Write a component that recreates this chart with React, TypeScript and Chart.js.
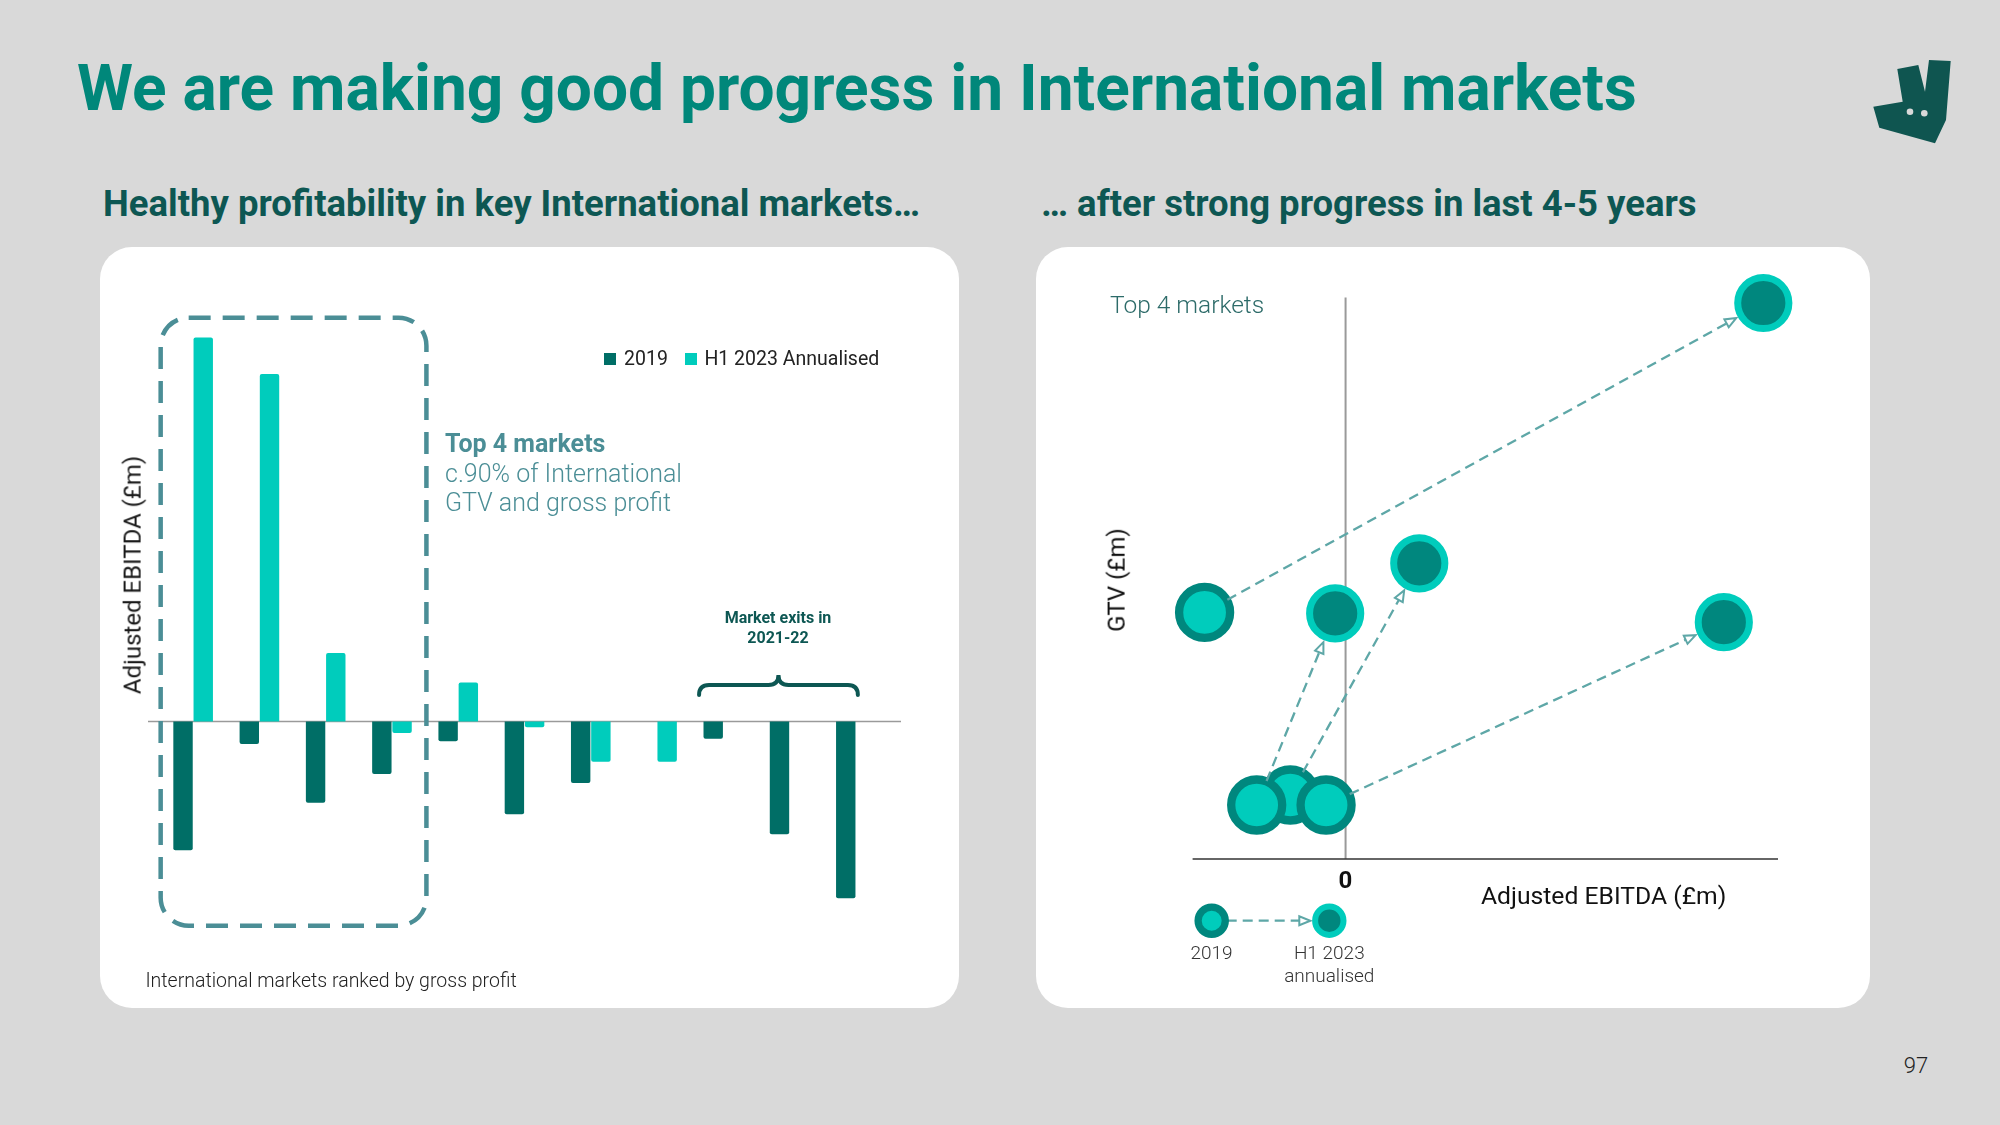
import React, { useEffect, useRef } from "react";
import { Chart, registerables } from "chart.js";

Chart.register(...registerables);

// ---------- Left chart data (Adjusted EBITDA, £m, read approximately) ----------
const markets = [
  "Market 1", "Market 2", "Market 3", "Market 4", "Market 5", "Market 6",
  "Market 7", "Market 8", "Market 9", "Market 10", "Market 11",
];
const ebitda2019 = [-20.1, -3.5, -12.7, -8.2, -3.1, -14.5, -9.6, null, -2.7, -17.6, -27.6];
const ebitdaH1 = [60.0, 54.3, 10.7, -1.8, 6.1, -0.9, -6.3, -6.3, null, null, null];
const seriesLabels = ["2019", "H1 2023 Annualised"];

// ---------- Right chart data (top 4 markets: EBITDA vs GTV) ----------
const topMarkets = ["Market A", "Market C", "Market B", "Market D"];
const ebitdaTop2019 = [-14.1, -5.53, -8.89, -1.95];
const gtvTop2019 = [24.66, 6.4, 5.4, 5.4];
const ebitdaTopH1 = [41.78, 7.37, -1.04, 37.83];
const gtvTopH1 = [55.6, 29.57, 24.56, 23.68];

const FONT = "Roboto, 'Noto Sans', sans-serif";
const DARK = "#006e66";
const LIGHT = "#00ccbc";
const DARK_PT = "#00877e";
const BOX = "#4b8e96";
const DEEP = "#0d5753";
const ARROW = "#5ea7a7";

type TxtProps = {
  x: number; y: number; size: number; weight?: number; color?: string;
  align?: "left" | "center" | "right"; rotate?: boolean; children: React.ReactNode;
};
const Txt = ({ x, y, size, weight = 400, color = "#222", align = "left", rotate = false, children }: TxtProps) => {
  const tx = rotate ? "-50%" : align === "center" ? "-50%" : align === "right" ? "-100%" : "0";
  const style: React.CSSProperties = {
    position: "absolute", left: x, top: y, fontSize: size, fontWeight: weight, color,
    fontFamily: FONT, lineHeight: 1.2, whiteSpace: "nowrap",
    transform: `translate(${tx}, -50%)` + (rotate ? " rotate(-90deg)" : ""),
    transformOrigin: "center",
  };
  return <div style={style}>{children}</div>;
};

function drawArrow(ctx: CanvasRenderingContext2D, x1: number, y1: number, x2: number, y2: number,
  startOff: number, endOff: number) {
  const dx = x2 - x1, dy = y2 - y1;
  const L = Math.hypot(dx, dy);
  const ux = dx / L, uy = dy / L;
  const nx = -uy, ny = ux;
  const sx = x1 + ux * startOff, sy = y1 + uy * startOff;
  const ex = x2 - ux * endOff, ey = y2 - uy * endOff;
  const head = 11, hw = 4.5;
  const bx = ex - ux * head, by = ey - uy * head;
  ctx.save();
  ctx.strokeStyle = ARROW;
  ctx.lineWidth = 2.3;
  ctx.setLineDash([10, 6]);
  ctx.beginPath();
  ctx.moveTo(sx, sy);
  ctx.lineTo(bx, by);
  ctx.stroke();
  ctx.setLineDash([]);
  ctx.beginPath();
  ctx.moveTo(ex, ey);
  ctx.lineTo(bx + nx * hw, by + ny * hw);
  ctx.lineTo(bx - nx * hw, by - ny * hw);
  ctx.closePath();
  ctx.fillStyle = "#ffffff";
  ctx.fill();
  ctx.lineWidth = 2;
  ctx.stroke();
  ctx.restore();
}

const LeftChart = () => {
  const ref = useRef<HTMLCanvasElement>(null);
  useEffect(() => {
    if (!ref.current) return;
    const boxTop = 63.1, boxBottom = -31.9, braceLevel = 5.7;
    const annot = {
      id: "leftAnnot",
      beforeDatasetsDraw(chart: any) {
        const { ctx, chartArea, scales } = chart;
        const y0 = scales.y.getPixelForValue(0);
        ctx.save();
        ctx.strokeStyle = "#9a9a9a";
        ctx.lineWidth = 1.6;
        ctx.beginPath();
        ctx.moveTo(chartArea.left - 12, y0);
        ctx.lineTo(chartArea.right + 12, y0);
        ctx.stroke();
        ctx.restore();
      },
      afterDatasetsDraw(chart: any) {
        const { ctx, scales } = chart;
        const x = scales.x, y = scales.y;
        const w = x.getPixelForValue(1) - x.getPixelForValue(0);
        // dashed box around top 4 markets
        const l = x.getPixelForValue(0) - 0.49 * w;
        const r = x.getPixelForValue(3) + 0.52 * w;
        const t = y.getPixelForValue(boxTop);
        const b = y.getPixelForValue(boxBottom);
        ctx.save();
        ctx.strokeStyle = BOX;
        ctx.lineWidth = 4.5;
        ctx.setLineDash([22, 12]);
        ctx.beginPath();
        (ctx as any).roundRect(l, t, r - l, b - t, 28);
        ctx.stroke();
        ctx.restore();
        // brace over market exits
        const bl = x.getPixelForValue(8) - 0.366 * w;
        const br = x.getPixelForValue(10) + 0.03 * w;
        const bm = (bl + br) / 2;
        const yh = y.getPixelForValue(braceLevel);
        ctx.save();
        ctx.strokeStyle = DEEP;
        ctx.lineWidth = 4;
        ctx.lineCap = "round";
        ctx.beginPath();
        ctx.moveTo(bl, yh + 10);
        ctx.quadraticCurveTo(bl, yh, bl + 10, yh);
        ctx.lineTo(bm - 10, yh);
        ctx.quadraticCurveTo(bm, yh, bm, yh - 10);
        ctx.quadraticCurveTo(bm, yh, bm + 10, yh);
        ctx.lineTo(br - 10, yh);
        ctx.quadraticCurveTo(br, yh, br, yh + 10);
        ctx.stroke();
        ctx.restore();
      },
    };
    const chart = new Chart(ref.current, {
      type: "bar",
      data: {
        labels: markets,
        datasets: [
          {
            label: seriesLabels[0], data: ebitda2019 as any, backgroundColor: DARK,
            borderRadius: 2, categoryPercentage: 0.61, barPercentage: 0.96,
          },
          {
            label: seriesLabels[1], data: ebitdaH1 as any, backgroundColor: LIGHT,
            borderRadius: 2, categoryPercentage: 0.61, barPercentage: 0.96,
          },
        ],
      },
      options: {
        animation: false, responsive: false, devicePixelRatio: 1,
        layout: { padding: { left: 60, right: 70, top: 30, bottom: 30 } },
        scales: {
          x: { display: false },
          y: { display: false, min: -40.08, max: 69.45 },
        },
        plugins: { legend: { display: false }, tooltip: { enabled: false } },
      },
      plugins: [annot],
    });
    return () => chart.destroy();
  }, []);
  return <canvas ref={ref} width={859} height={761} style={{ position: "absolute", left: 0, top: 0, width: 859, height: 761 }} />;
};

const RightChart = () => {
  const ref = useRef<HTMLCanvasElement>(null);
  useEffect(() => {
    if (!ref.current) return;
    const pt = (cx: number, cy: number, r: number, lw: number, fill: string, stroke: string, ctx: CanvasRenderingContext2D) => {
      ctx.beginPath();
      ctx.arc(cx, cy, r, 0, Math.PI * 2);
      ctx.fillStyle = fill;
      ctx.fill();
      ctx.lineWidth = lw;
      ctx.strokeStyle = stroke;
      ctx.stroke();
    };
    const annot = {
      id: "rightAnnot",
      beforeDatasetsDraw(chart: any) {
        const { ctx, chartArea, scales } = chart;
        const x0 = scales.x.getPixelForValue(0);
        const y0 = scales.y.getPixelForValue(0);
        ctx.save();
        ctx.strokeStyle = "#9a9a9a";
        ctx.lineWidth = 2;
        ctx.beginPath();
        ctx.moveTo(x0, chartArea.top);
        ctx.lineTo(x0, y0);
        ctx.stroke();
        ctx.strokeStyle = "#333333";
        ctx.lineWidth = 1.6;
        ctx.beginPath();
        ctx.moveTo(chartArea.left, y0);
        ctx.lineTo(chartArea.right, y0);
        ctx.stroke();
        ctx.restore();
      },
      afterDatasetsDraw(chart: any) {
        const { ctx, scales } = chart;
        for (let i = 0; i < topMarkets.length; i++) {
          const x1 = scales.x.getPixelForValue(ebitdaTop2019[i]);
          const y1 = scales.y.getPixelForValue(gtvTop2019[i]);
          const x2 = scales.x.getPixelForValue(ebitdaTopH1[i]);
          const y2 = scales.y.getPixelForValue(gtvTopH1[i]);
          drawArrow(ctx, x1, y1, x2, y2, 26, 31);
        }
      },
      afterDraw(chart: any) {
        const { ctx } = chart;
        ctx.save();
        // legend symbols
        drawArrow(ctx, 175.7, 673.7, 293.3, 673.7, 15, 19);
        pt(175.7, 673.7, 13.6, 7.3, LIGHT, DARK_PT, ctx);
        pt(293.3, 673.7, 14.2, 6, DARK_PT, LIGHT, ctx);
        ctx.restore();
      },
    };
    const chart = new Chart(ref.current, {
      type: "scatter",
      data: {
        datasets: [
          {
            label: "2019",
            data: ebitdaTop2019.map((v, i) => ({ x: v, y: gtvTop2019[i] })),
            pointRadius: 25.5, pointBorderWidth: 8.3,
            pointBackgroundColor: LIGHT, pointBorderColor: DARK_PT, clip: false as any,
          },
          {
            label: "H1 2023 annualised",
            data: ebitdaTopH1.map((v, i) => ({ x: v, y: gtvTopH1[i] })),
            pointRadius: 25.6, pointBorderWidth: 7,
            pointBackgroundColor: DARK_PT, pointBorderColor: LIGHT, clip: false as any,
          },
        ],
      },
      options: {
        animation: false, responsive: false, devicePixelRatio: 1,
        layout: { padding: { left: 156.6, right: 92, top: 50.6, bottom: 149 } },
        scales: {
          x: { type: "linear", display: false, min: -15.3, max: 43.25 },
          y: { type: "linear", display: false, min: 0, max: 56.14 },
        },
        plugins: { legend: { display: false }, tooltip: { enabled: false } },
      },
      plugins: [annot],
    });
    return () => chart.destroy();
  }, []);
  return <canvas ref={ref} width={834} height={761} style={{ position: "absolute", left: 0, top: 0, width: 834, height: 761 }} />;
};

const card = (left: number, width: number): React.CSSProperties => ({
  position: "absolute", left, top: 247, width, height: 761, background: "#ffffff", borderRadius: 32, overflow: "hidden",
});

export default function App() {
  return (
    <div style={{ position: "fixed", left: 0, top: 0, width: 2000, height: 1125, background: "#d9d9d9", overflow: "hidden", fontFamily: FONT }}>
      <Txt x={77} y={88.5} size={64} weight={700} color="#00877a">We are making good progress in International markets</Txt>
      <svg style={{ position: "absolute", left: 1860, top: 45 }} width={110} height={110} viewBox="0 0 110 110">
        <polygon points="37.3,24 58.3,20 65,46.7 69,15 90.7,16 86,75 75,98.3 19.3,82.7 13.3,61.7 42.7,56.7" fill="#0f5550" />
        <circle cx={50} cy={66.7} r={3.3} fill="#d9d9d9" />
        <circle cx={64.3} cy={68.3} r={3.3} fill="#d9d9d9" />
      </svg>
      <Txt x={103} y={204} size={36.5} weight={700} color={DEEP}>Healthy profitability in key International markets…</Txt>
      <Txt x={1041} y={204} size={36.5} weight={700} color={DEEP}>… after strong progress in last 4-5 years</Txt>

      <div style={card(100, 859)}>
        <LeftChart />
      </div>
      {/* left chart texts */}
      <Txt x={132.8} y={575} size={24} rotate color="#1a1a1a">Adjusted EBITDA (£m)</Txt>
      <div style={{ position: "absolute", left: 604.4, top: 352.8, width: 12, height: 12, background: DARK }} />
      <Txt x={624} y={358.5} size={19.5} color="#222">{seriesLabels[0]}</Txt>
      <div style={{ position: "absolute", left: 685, top: 352.8, width: 12, height: 12, background: LIGHT }} />
      <Txt x={704.4} y={358.5} size={19.5} color="#222">{seriesLabels[1]}</Txt>
      <Txt x={445} y={443.5} size={25} weight={700} color={BOX}>Top 4 markets</Txt>
      <Txt x={445} y={473.9} size={25} weight={300} color={BOX}>c.90% of International</Txt>
      <Txt x={445} y={503.3} size={25} weight={300} color={BOX}>GTV and gross profit</Txt>
      <Txt x={778} y={617.5} size={16} weight={700} color={DEEP} align="center">Market exits in</Txt>
      <Txt x={778} y={637.5} size={16} weight={700} color={DEEP} align="center">2021-22</Txt>
      <Txt x={145.4} y={980.5} size={19.5} weight={300} color="#222">International markets ranked by gross profit</Txt>

      <div style={card(1036, 834)}>
        <RightChart />
      </div>
      {/* right chart texts */}
      <Txt x={1110} y={305} size={24.5} weight={300} color="#2d6b69">Top 4 markets</Txt>
      <Txt x={1116.7} y={580} size={24} rotate color="#111">GTV (£m)</Txt>
      <Txt x={1345.5} y={879.6} size={24} weight={700} color="#111" align="center">0</Txt>
      <Txt x={1481} y={895.8} size={24.7} color="#111">Adjusted EBITDA (£m)</Txt>
      <Txt x={1211.5} y={953.3} size={19} weight={300} color="#333" align="center">2019</Txt>
      <Txt x={1329.3} y={953.3} size={19} weight={300} color="#333" align="center">H1 2023</Txt>
      <Txt x={1329.3} y={976} size={19} weight={300} color="#333" align="center">annualised</Txt>

      <Txt x={1916} y={1066} size={22} weight={300} color="#222" align="center">97</Txt>
    </div>
  );
}
